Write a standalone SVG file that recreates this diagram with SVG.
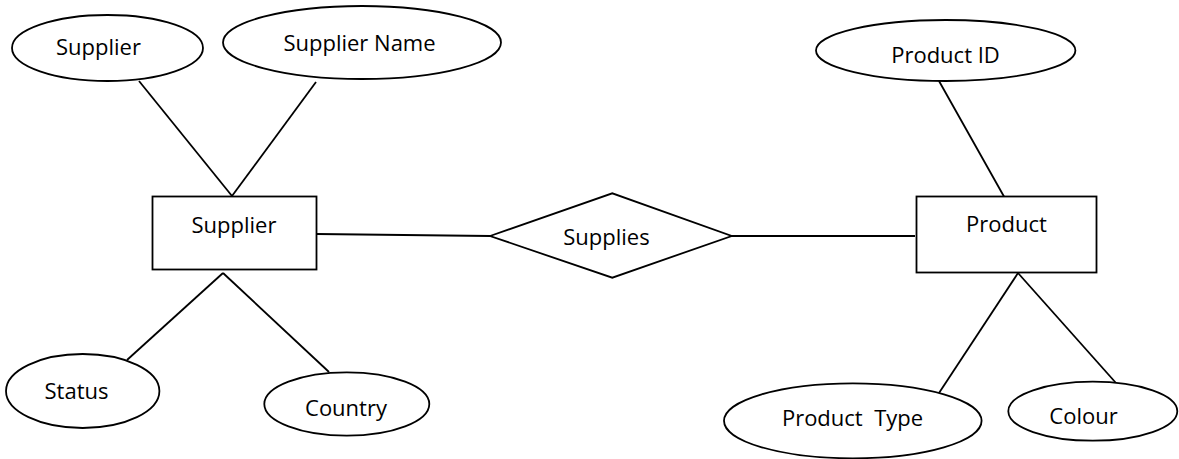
<svg xmlns="http://www.w3.org/2000/svg" width="1179" height="459" viewBox="0 0 1179 459">
<style>
.shape{fill:#fff;stroke:#000;stroke-width:1.8}
.conn line{stroke:#000;stroke-width:1.8}
text{font-family:"Open Sans","Liberation Sans",sans-serif;font-size:22px;fill:#000;text-anchor:middle;white-space:pre}
</style>
<rect width="1179" height="459" fill="#fff"/>
<g id="connectors" class="conn">
<line x1="139" y1="81" x2="232" y2="196"/>
<line x1="316" y1="82" x2="232" y2="196"/>
<line x1="223" y1="273" x2="127" y2="360"/>
<line x1="223" y1="273" x2="329" y2="372"/>
<line x1="317" y1="234" x2="490" y2="236"/>
<line x1="732" y1="236" x2="915" y2="236"/>
<line x1="939" y1="81" x2="1004" y2="196.5"/>
<line x1="1018" y1="273" x2="939" y2="393"/>
<line x1="1018" y1="273" x2="1116" y2="383"/>
</g>
<g id="attr-supplier">
<ellipse class="shape" cx="107.5" cy="48" rx="95.5" ry="33"/>
<text x="98.5" y="55">Supplier</text>
</g>
<g id="attr-supplier-name">
<ellipse class="shape" cx="362" cy="42.5" rx="139" ry="36.5"/>
<text x="359.5" y="51">Supplier Name</text>
</g>
<g id="entity-supplier">
<rect class="shape" x="152.5" y="196.5" width="164" height="73"/>
<text x="234" y="233">Supplier</text>
</g>
<g id="attr-status">
<ellipse class="shape" cx="82.7" cy="391" rx="76.7" ry="37"/>
<text x="76.5" y="399">Status</text>
</g>
<g id="attr-country">
<ellipse class="shape" cx="346.8" cy="404" rx="82.5" ry="31.7"/>
<text x="346" y="416">Country</text>
</g>
<g id="rel-supplies">
<polygon class="shape" points="490,236 612.3,193.3 731.7,236 612.3,277.7"/>
<text x="606.5" y="245">Supplies</text>
</g>
<g id="attr-product-id">
<ellipse class="shape" cx="945.7" cy="50.5" rx="129.7" ry="30.5"/>
<text x="945.5" y="63">Product ID</text>
</g>
<g id="entity-product">
<rect class="shape" x="916.5" y="196.5" width="180" height="76"/>
<text x="1006.5" y="232">Product</text>
</g>
<g id="attr-product-type">
<ellipse class="shape" cx="852.8" cy="420.8" rx="128.8" ry="37.5"/>
<text x="852.5" y="426" xml:space="preserve">Product  Type</text>
</g>
<g id="attr-colour">
<ellipse class="shape" cx="1092.8" cy="411.2" rx="84.5" ry="29.5"/>
<text x="1083.5" y="424">Colour</text>
</g>
</svg>
